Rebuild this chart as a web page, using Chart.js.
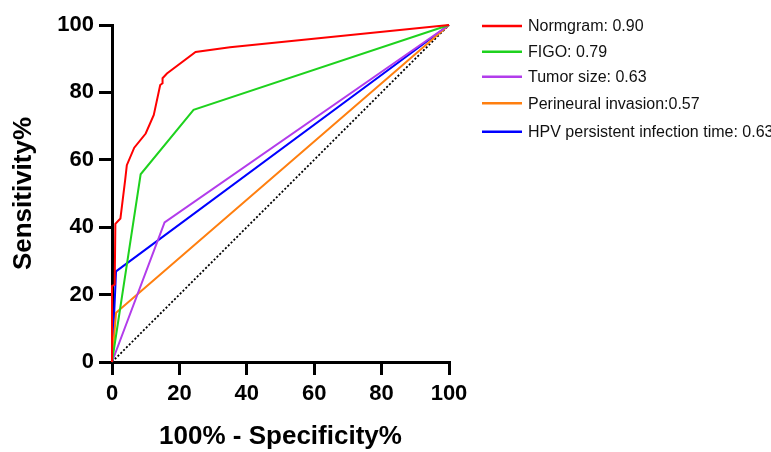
<!DOCTYPE html>
<html>
<head>
<meta charset="utf-8">
<script src="https://cdn.jsdelivr.net/npm/chart.js@4.4.1/dist/chart.umd.min.js"></script>
<style>
  html, body { margin: 0; padding: 0; background: #fff; }
  #wrap { width: 771px; height: 452px; }
</style>
</head>
<body>
<div id="wrap"><canvas id="roc"></canvas></div>
<script>
// ROC curves (x = 100% - specificity, y = sensitivity)
const labels = [
    "Normgram: 0.90",
    "FIGO: 0.79",
    "Tumor size: 0.63",
    "Perineural invasion:0.57",
    "HPV persistent infection time: 0.63"
];
const colors = ["#FF0000", "#1ED21E", "#B23CEB", "#FF7F0F", "#0000FF"];

const normX = [0, 0, 0.8, 1, 2.5, 3.9, 4.4, 6.6, 10, 12.4, 14.3, 15, 15, 16.3, 24.8, 35, 100];
const normY = [0, 22.5, 23, 41, 42.6, 54, 58.4, 63.6, 67.8, 73.3, 82.2, 82.7, 84.2, 85.6, 92, 93.4, 100];
const figoX = [0, 8.5, 24.2, 100];
const figoY = [0, 55.7, 74.8, 100];
const tumorX = [0, 15.6, 100];
const tumorY = [0, 41.4, 100];
const periX = [0, 1.2, 100];
const periY = [0, 14.6, 100];
const hpvX = [0, 1.2, 100];
const hpvY = [0, 26.9, 100];
const refX = [0, 100];
const refY = [0, 100];

const xTicks = [0, 20, 40, 60, 80, 100];
const yTicks = [0, 20, 40, 60, 80, 100];

function pts(xs, ys) {
    return xs.map((x, i) => ({ x: x, y: ys[i] }));
}

const curves = [[normX, normY], [figoX, figoY], [tumorX, tumorY], [periX, periY], [hpvX, hpvY]];

const datasets = curves.map((c, i) => ({
    label: labels[i],
    data: pts(c[0], c[1]),
    borderColor: colors[i],
    borderWidth: 2,
    showLine: true,
    pointRadius: 0,
    tension: 0,
    clip: false
}));
datasets.push({
    label: "reference",
    data: pts(refX, refY),
    borderColor: "#000",
    borderWidth: 1.8,
    borderDash: [2, 2],
    showLine: true,
    pointRadius: 0,
    clip: false
});

// legend drawn by hand so it can sit to the right of the plot
const sideLegend = {
    id: "sideLegend",
    afterDraw(chart) {
        const ctx = chart.ctx;
        const rows = [26, 51.7, 76.7, 103.3, 131.7];
        ctx.save();
        ctx.font = "16px 'Liberation Sans', Arial, sans-serif";
        ctx.textBaseline = "middle";
        labels.forEach((t, i) => {
            ctx.strokeStyle = colors[i];
            ctx.lineWidth = 2.5;
            ctx.beginPath();
            ctx.moveTo(482, rows[i]);
            ctx.lineTo(522, rows[i]);
            ctx.stroke();
            ctx.fillStyle = "#111";
            ctx.fillText(t, 528, rows[i] + 1);
        });
        ctx.restore();
    }
};

const tickFont = { family: "'Liberation Sans', Arial, sans-serif", size: 22, weight: "bold" };
const titleFont = { family: "'Liberation Sans', Arial, sans-serif", size: 26, weight: "bold" };

new Chart(document.getElementById("roc"), {
    type: "scatter",
    data: { datasets: datasets },
    plugins: [sideLegend],
    options: {
        responsive: true,
        maintainAspectRatio: false,
        animation: false,
        layout: { padding: { top: 25, right: 322, left: 0, bottom: 0 } },
        plugins: { legend: { display: false }, tooltip: { enabled: false } },
        scales: {
            x: {
                type: "linear",
                min: 0,
                max: 100,
                afterBuildTicks: s => { s.ticks = xTicks.map(v => ({ value: v })); },
                afterFit: s => { s.height = 90; },
                border: { color: "#000", width: 3 },
                grid: { drawOnChartArea: false, color: "#000", lineWidth: 3, tickLength: 13 },
                ticks: { color: "#000", font: tickFont, padding: 6, maxRotation: 0 },
                title: { display: true, text: "100% - Specificity%", color: "#000", font: titleFont, padding: { top: 0, bottom: 0 } }
            },
            y: {
                type: "linear",
                min: 0,
                max: 100,
                afterBuildTicks: s => { s.ticks = yTicks.map(v => ({ value: v })); },
                afterFit: s => { s.width = 112; },
                border: { color: "#000", width: 3 },
                grid: { drawOnChartArea: false, color: "#000", lineWidth: 3, tickLength: 13 },
                ticks: { color: "#000", font: tickFont, padding: 5 },
                title: { display: true, text: "Sensitivity%", color: "#000", font: titleFont, padding: { top: 8, bottom: 0 } }
            }
        }
    }
});
</script>
</body>
</html>
